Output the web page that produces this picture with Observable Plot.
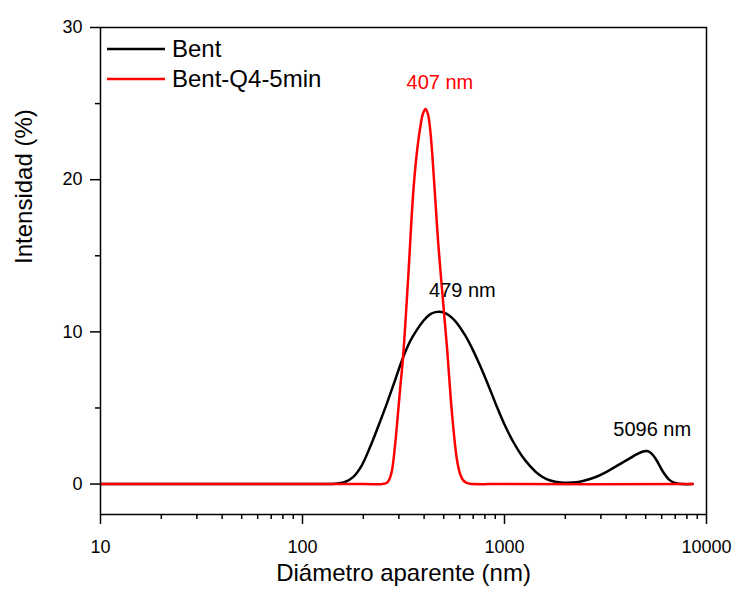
<!DOCTYPE html>
<html>
<head>
<meta charset="utf-8">
<script src="https://cdn.jsdelivr.net/npm/d3@7"></script>
<script src="https://cdn.jsdelivr.net/npm/@observablehq/plot@0.6"></script>
<style>
  html, body { margin: 0; padding: 0; background: #fff; }
  #wrap { position: relative; width: 738px; height: 592px; font-family: "Liberation Sans", Arial, sans-serif; }
  #legend { position: absolute; left: 107px; top: 34px; font-size: 24px; color: #000; }
  .item { display: flex; align-items: center; height: 30px; }
  .item svg { margin-right: 7px; }
</style>
</head>
<body>
<div id="wrap"></div>
<script>
// Bent (black) — diameter (nm), intensity (%)
const bentX = [10, 100, 130, 145, 160, 178, 196, 216, 238, 262, 286, 311, 340, 369, 398, 428, 455, 479, 515, 550, 582, 640, 698, 750, 800, 860, 914, 1000, 1104, 1220, 1336, 1470, 1615, 1780, 1950, 2150, 2358, 2600, 2852, 3150, 3447, 3800, 4169, 4500, 4851, 5096, 5350, 5649, 6089, 6571, 7097, 7600, 8539];
const bentY = [0, 0, 0, 0.02, 0.1, 0.46, 1.2, 2.43, 3.85, 5.32, 6.75, 8.14, 9.35, 10.15, 10.75, 11.15, 11.3, 11.32, 11.2, 10.92, 10.57, 9.75, 8.8, 7.9, 7.03, 6.01, 5.12, 3.91, 2.78, 1.85, 1.2, 0.66, 0.32, 0.15, 0.09, 0.1, 0.15, 0.3, 0.48, 0.75, 1.05, 1.38, 1.69, 1.95, 2.14, 2.17, 2.0, 1.58, 0.81, 0.26, 0.05, 0, 0];

// Bent-Q4-5min (red)
const qX = [10, 200, 250, 262, 270, 277.6, 287, 297, 305, 314.6, 333, 352.6, 367, 382, 395, 407, 418, 428, 440, 453, 470, 490.6, 519, 549.5, 582, 605, 623, 650, 675, 1000, 8539];
const qY = [0, 0, 0.01, 0.08, 0.35, 0.92, 2.5, 4.66, 6.4, 8.34, 13.39, 18.98, 21.6, 23.37, 24.35, 24.65, 24.3, 23.37, 21.5, 18.98, 15.8, 12.8, 9.0, 4.66, 1.58, 0.6, 0.26, 0.08, 0.02, 0, 0];

// Peak annotations
const annText = ["407 nm", "479 nm", "5096 nm"];
const annX = [479, 619, 5384];
const annY = [26.4, 12.74, 3.61];
const annColor = ["#ff0000", "#000000", "#000000"];

const seriesNames = ["Bent", "Bent-Q4-5min"];
const seriesColors = ["#000000", "#ff0000"];

const xMajor = [10, 100, 1000, 10000];
const xMinor = [20,30,40,50,60,70,80,90,200,300,400,500,600,700,800,900,2000,3000,4000,5000,6000,7000,8000,9000];
const yMajor = [0, 10, 20, 30];
const yMinor = [5, 15, 25];

const bent = bentX.map((x, i) => ({x, y: bentY[i]}));
const q = qX.map((x, i) => ({x, y: qY[i]}));
const ann = annText.map((t, i) => ({t, x: annX[i], y: annY[i], c: annColor[i]}));

const chart = Plot.plot({
  width: 738,
  height: 592,
  marginLeft: 100,
  marginRight: 32,
  marginTop: 27,
  marginBottom: 78,
  style: {fontFamily: "'Liberation Sans', Arial, sans-serif", fontSize: "18px", color: "#000", background: "#fff"},
  x: {type: "log", domain: [10, 10000]},
  y: {domain: [-2, 30]},
  marks: [
    Plot.axisX({ticks: xMajor, tickSize: 10, tickPadding: 16, tickFormat: d => String(d), label: null, fontSize: 18, strokeWidth: 1.5}),
    Plot.axisX({ticks: xMinor, tickSize: 5, tickFormat: () => "", label: null, strokeWidth: 1.5}),
    Plot.axisY({ticks: yMajor, tickSize: 10, tickPadding: 8, tickFormat: d => String(d), label: null, fontSize: 18, strokeWidth: 1.5}),
    Plot.axisY({ticks: yMinor, tickSize: 5, tickFormat: () => "", label: null, strokeWidth: 1.5}),
    Plot.line(bent, {x: "x", y: "y", stroke: seriesColors[0], strokeWidth: 2.5, curve: "catmull-rom"}),
    Plot.line(q, {x: "x", y: "y", stroke: seriesColors[1], strokeWidth: 2.5, curve: "catmull-rom"}),
    Plot.text(ann, {x: "x", y: "y", text: "t", fill: "c", fontSize: 20}),
    Plot.frame({stroke: "#000", strokeWidth: 1.5}),
    Plot.text(["Diámetro aparente (nm)"], {frameAnchor: "bottom", dy: 66, fontSize: 24, fill: "#000"}),
    Plot.text(["Intensidad (%)"], {frameAnchor: "left", dx: -76, dy: -7, rotate: -90, fontSize: 24, fill: "#000"})
  ]
});

const wrap = document.getElementById("wrap");
chart.style.position = "absolute";
chart.style.left = "0px";
chart.style.top = "0px";
wrap.appendChild(chart);

const legend = document.createElement("div");
legend.id = "legend";
seriesNames.forEach((name, i) => {
  const item = document.createElement("div");
  item.className = "item";
  item.innerHTML = `<svg width="58" height="4"><line x1="0" y1="2" x2="58" y2="2" stroke="${seriesColors[i]}" stroke-width="2.5"/></svg><span>${name}</span>`;
  legend.appendChild(item);
});
wrap.appendChild(legend);
</script>
</body>
</html>
